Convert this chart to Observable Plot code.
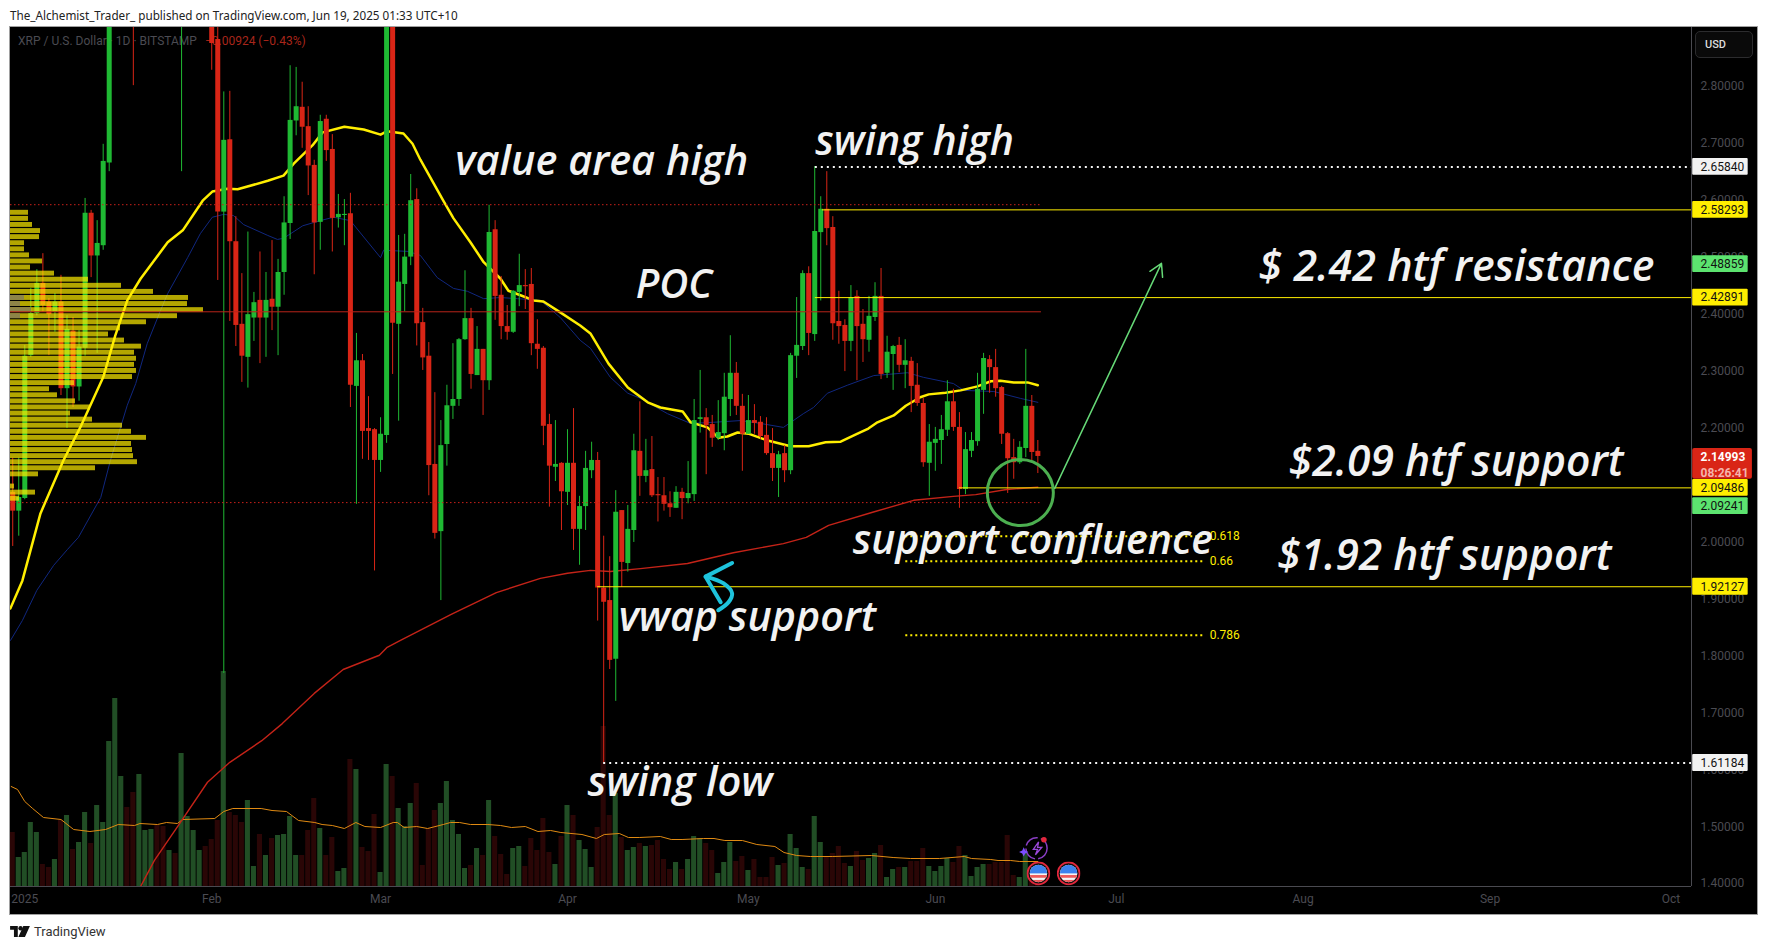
<!DOCTYPE html>
<html><head><meta charset="utf-8">
<script src="https://cdn.jsdelivr.net/npm/d3@7"></script>
<script src="https://cdn.jsdelivr.net/npm/@observablehq/plot@0.6"></script>
<style>
html,body{margin:0;padding:0;background:#fff;overflow:hidden}
#root{position:relative;width:1767px;height:949px;font-family:Roboto,sans-serif}
#head{position:absolute;left:10px;top:7px;font:11.7px "Noto Sans",Roboto,sans-serif;color:#222;white-space:nowrap}
#chart{position:absolute;left:10px;top:27px;width:1747px;height:887px;background:#000;outline:1px solid #a0a0a0}
#chart svg{position:absolute;left:0;top:0}
#legend{position:absolute;left:8px;top:7px;font:12px Roboto,sans-serif;color:#4b4b52;white-space:nowrap}
#legend b{font-weight:400;color:#a8261b;margin-left:8px}
#usd{position:absolute;left:1685px;top:4px;width:47px;height:25px;background:#0a0a0a;border:1px solid #2c2c2e;border-radius:5px;color:#ddd;font:500 11px/25px Roboto,sans-serif;padding-left:9px;box-sizing:content-box;z-index:9}
#foot{position:absolute;left:10px;top:924px;display:flex;align-items:center;gap:4px;font:13px Roboto,sans-serif;color:#333}
</style></head><body>
<div id="root">
<div id="head">The_Alchemist_Trader_ published on TradingView.com, Jun 19, 2025 01:33 UTC+10</div>
<div id="chart"><div id="legend">XRP / U.S. Dollar · 1D · BITSTAMP<b>−0.00924 (−0.43%)</b></div><div id="usd">USD</div></div>
<div id="foot"><svg width="20" height="11" viewBox="0 0 36 20"><path fill="#111" d="M0 0h14v20H7V7H0zM24 0h12l-9 20H15z"/><circle cx="19" cy="4" r="4" fill="#111"/></svg><span>TradingView</span></div>
</div>
<script>
// ---- candles, one value per day; the first entry is two days before 1 Jan 2025
const firstDay = -2;
const opens = [
2.087,2.054,2.076,2.327,2.401,2.454,2.421,2.403,2.421,2.269,
2.370,2.272,2.340,2.577,2.502,2.520,2.665,3.07,3.18,3.26,
3.12,3.03,3.14,3.18,3.20,3.12,3.09,3.13,3.02,3.10,
3.12,3.14,3.16,3.05,2.882,2.579,2.706,2.527,2.382,2.324,
2.393,2.424,2.393,2.426,2.412,2.473,2.559,2.739,2.763,2.729,
2.661,2.561,2.742,2.689,2.569,2.573,2.576,2.273,2.318,2.199,
2.197,2.143,2.187,2.97,2.382,2.452,2.500,2.601,2.385,2.326,
2.136,2.018,2.171,2.238,2.250,2.355,2.392,2.292,2.338,2.283,
2.548,2.433,2.378,2.368,2.438,2.450,2.452,2.347,2.340,2.206,
2.131,2.138,2.087,2.138,2.022,2.062,2.125,2.143,1.919,1.897,
1.794,2.055,1.962,2.020,2.159,2.115,2.127,2.083,2.081,2.067,
2.059,2.087,2.076,2.083,2.215,2.218,2.206,2.182,2.190,2.250,
2.296,2.238,2.189,2.213,2.210,2.187,2.155,2.129,2.155,2.125,
2.326,2.343,2.471,2.364,2.543,2.584,2.552,2.387,2.380,2.352,
2.431,2.382,2.354,2.394,2.431,2.296,2.329,2.345,2.310,2.317,
2.275,2.243,2.138,2.173,2.178,2.196,2.246,2.201,2.092,2.159,
2.176,2.266,2.320,2.306,2.271,2.190,2.148,2.139,2.164,2.238,2.159];
const highs = [
2.147,2.147,2.345,2.445,2.478,2.506,2.427,2.436,2.468,2.397,
2.394,2.371,2.603,2.582,2.564,2.698,3.16,3.22,3.40,3.29,
3.28,3.20,3.22,3.24,3.22,3.16,3.17,3.15,3.15,3.16,
3.18,3.20,3.18,3.07,2.98,2.790,2.791,2.571,2.471,2.544,
2.438,2.509,2.473,2.529,2.496,2.606,2.836,2.833,2.807,2.764,
2.670,2.749,2.749,2.715,2.610,2.601,2.612,2.366,2.329,2.255,
2.199,2.218,3.00,3.00,2.538,2.540,2.645,2.620,2.410,2.350,
2.262,2.213,2.275,2.348,2.357,2.476,2.410,2.378,2.338,2.591,
2.564,2.466,2.415,2.441,2.505,2.478,2.480,2.390,2.343,2.224,
2.213,2.139,2.197,2.234,2.080,2.159,2.175,2.157,2.010,1.974,
2.090,2.055,2.064,2.189,2.246,2.180,2.185,2.113,2.113,2.088,
2.097,2.094,2.141,2.250,2.301,2.234,2.222,2.248,2.296,2.362,
2.315,2.259,2.257,2.241,2.220,2.218,2.199,2.159,2.169,2.331,
2.429,2.476,2.483,2.659,2.606,2.650,2.571,2.440,2.390,2.450,
2.441,2.408,2.431,2.455,2.480,2.361,2.345,2.359,2.355,2.324,
2.313,2.252,2.206,2.201,2.222,2.283,2.268,2.227,2.192,2.192,
2.296,2.331,2.327,2.338,2.273,2.192,2.180,2.176,2.338,2.257,2.178];
const lows = [
1.992,2.010,2.074,2.324,2.397,2.403,2.327,2.368,2.257,2.199,
2.236,2.247,2.326,2.464,2.331,2.512,2.650,2.98,3.10,3.02,
2.801,2.95,3.02,3.05,3.02,3.02,3.02,2.95,2.650,3.00,
3.00,2.98,2.96,2.828,2.459,1.769,2.387,2.343,2.280,2.270,
2.352,2.313,2.324,2.371,2.327,2.433,2.531,2.713,2.691,2.608,
2.469,2.512,2.668,2.509,2.551,2.520,2.236,2.066,2.145,2.143,
1.949,2.122,2.173,2.294,2.212,2.404,2.485,2.344,2.301,2.081,
2.005,1.897,2.133,2.215,2.238,2.354,2.268,2.292,2.222,2.266,
2.389,2.355,2.354,2.366,2.413,2.408,2.327,2.303,2.169,2.061,
2.106,2.020,2.064,1.985,1.959,2.020,2.111,1.861,1.611,1.776,
1.720,1.920,1.947,1.999,2.080,2.104,2.078,2.035,2.054,2.043,
2.059,2.039,2.067,2.071,2.191,2.118,2.166,2.178,2.160,2.220,
2.222,2.124,2.189,2.189,2.180,2.152,2.106,2.078,2.104,2.118,
2.287,2.336,2.327,2.352,2.423,2.520,2.354,2.347,2.299,2.334,
2.283,2.315,2.333,2.387,2.285,2.287,2.266,2.297,2.269,2.227,
2.238,2.131,2.080,2.124,2.136,2.185,2.194,2.059,2.083,2.148,
2.168,2.224,2.261,2.254,2.171,2.085,2.110,2.136,2.148,2.141,2.120];
const closes = [
2.054,2.078,2.326,2.401,2.454,2.415,2.399,2.421,2.269,2.373,
2.272,2.342,2.577,2.502,2.524,2.668,3.07,3.18,3.26,3.12,
3.03,3.14,3.18,3.20,3.12,3.09,3.13,3.02,3.10,3.12,
3.14,3.16,3.05,2.875,2.579,2.705,2.527,2.380,2.326,2.399,
2.420,2.393,2.424,2.412,2.473,2.560,2.740,2.764,2.728,2.660,
2.560,2.738,2.687,2.568,2.575,2.575,2.275,2.318,2.194,2.194,
2.143,2.189,2.97,2.384,2.456,2.500,2.599,2.383,2.323,2.134,
2.015,2.169,2.239,2.250,2.355,2.392,2.294,2.338,2.283,2.543,
2.431,2.378,2.368,2.440,2.450,2.448,2.348,2.338,2.203,2.133,
2.136,2.088,2.138,2.022,2.062,2.129,2.143,1.919,1.894,1.792,
2.052,1.964,2.022,2.160,2.115,2.125,2.081,2.081,2.066,2.060,
2.087,2.076,2.085,2.213,2.218,2.204,2.182,2.192,2.254,2.296,
2.238,2.189,2.213,2.208,2.185,2.155,2.129,2.153,2.125,2.327,
2.345,2.471,2.366,2.545,2.584,2.550,2.383,2.378,2.352,2.429,
2.378,2.355,2.396,2.431,2.294,2.333,2.343,2.310,2.318,2.273,
2.243,2.139,2.175,2.180,2.197,2.246,2.201,2.092,2.162,2.178,
2.268,2.322,2.306,2.269,2.189,2.146,2.139,2.166,2.238,2.157,2.150];
const volumes = [
54,29,34,64,54,22,19,27,66,71,
37,44,74,43,81,64,145,188,110,79,
94,112,56,57,61,60,36,33,133,70,
56,36,40,47,66,215,74,71,64,86,
20,52,31,48,51,52,70,31,31,56,
88,58,31,49,15,18,127,117,39,35,
72,14,122,110,78,60,83,103,21,58,
76,83,105,66,52,18,21,38,31,86,
50,32,12,38,40,20,48,36,68,34,
22,50,81,71,46,37,19,59,160,71,
93,49,36,39,43,40,41,46,27,17,
24,17,27,50,48,43,36,13,24,44,
25,30,16,27,9,9,29,21,23,52,
38,19,17,70,44,30,33,40,23,20,
35,26,28,33,41,9,17,19,19,25,
25,38,20,15,20,28,24,40,31,10,
19,22,22,24,24,51,11,9,33,16,8];
// ---- moving averages: days since 1 Jan and value
const yellowDays = [-2.4,-0.4,2.6,6.4,9.2,13,15,17,19.2,23.7,26.2,29.5,31.1,33.6,35.3,40.3,42.9,44.6,47.7,49.4,53,56.2,59,60.1,62.8,64.3,65.6,69.4,71.1,73.9,76.1,78.9,80.2,82.2,84.4,86,88.8,92.1,93.8,96.8,100,103.3,105.4,109.1,110.4,113.2,115,116.5,118.2,120,123.2,127,130,132.8,135.3,138.1,139.9,141.4,144.1,146.1,148.5,149.9,152.7,155.2,158,160.2,161.8,164,166.3,168];
const yellowValues = [1.883,1.932,2.050,2.143,2.201,2.289,2.362,2.424,2.462,2.526,2.547,2.599,2.615,2.620,2.619,2.634,2.643,2.664,2.696,2.719,2.729,2.724,2.715,2.721,2.717,2.699,2.671,2.599,2.568,2.526,2.491,2.462,2.441,2.433,2.424,2.422,2.403,2.380,2.366,2.313,2.271,2.245,2.236,2.229,2.210,2.201,2.183,2.185,2.192,2.190,2.178,2.168,2.168,2.175,2.176,2.190,2.199,2.210,2.222,2.239,2.254,2.259,2.262,2.266,2.273,2.282,2.283,2.280,2.280,2.275];
const blueDays = [-2.37,-0.4,2,4.8,7.1,8.9,12.6,14.2,17,18.4,20.3,22.5,23.7,27,29.1,31.1,33,34.6,36.3,40.3,41.9,42.9,46.1,49,51.2,54,59,59.5,63.6,65.6,68.4,71.1,73.4,76.1,78.9,81.7,85.5,88.8,92.1,93.8,97.1,100,102.1,106.6,110.4,114.2,118.7,122,125.8,129.1,130.8,133.1,136.4,140.8,146.4,149,154,155.7,160.7,165.1,168];
const blueValues = [1.827,1.862,1.915,1.959,1.987,2.008,2.078,2.143,2.240,2.278,2.348,2.406,2.436,2.499,2.541,2.570,2.575,2.573,2.557,2.538,2.531,2.533,2.555,2.564,2.570,2.564,2.499,2.512,2.510,2.503,2.464,2.445,2.440,2.427,2.429,2.427,2.424,2.394,2.354,2.340,2.289,2.261,2.252,2.225,2.208,2.210,2.213,2.208,2.201,2.225,2.236,2.261,2.275,2.292,2.297,2.289,2.278,2.266,2.264,2.252,2.245];
const vwapDays = [19.2,21.5,25.7,30.3,34,39.3,42.7,48,52.8,58.8,60.1,62.3,70.8,78.2,85.5,90,93.8,97.1,102.1,109.9,117.5,125.8,129.6,133.3,140.6,147.4,154,157.7,162.8,168];
const vwapValues = [1.395,1.441,1.506,1.578,1.613,1.651,1.681,1.734,1.776,1.801,1.815,1.827,1.873,1.911,1.936,1.945,1.950,1.948,1.953,1.962,1.981,1.997,2.008,2.029,2.052,2.073,2.080,2.083,2.092,2.096];
const volMaDays = [-2.25,-1.2,0,1.3,3.1,6,8.1,10.8,13.4,15.5,18.2,19.1,22,23.5,25.3,26.2,31.5,33,34.5,39.2,41,43.4,45.4,48.1,49.3,51,53,54.9,56.4,59,61.1,61.8,62.9,65,66.8,69.4,70.6,72.1,73.9,76.8,78.9,80.7,83,85.1,87.2,88.9,92.4,94.8,96.1,98.6,100.1,101.9,105.4,107.2,109,112.6,114.3,116.1,119,121.4,124.4,125.9,128,130.3,133.9,140.4,144,146.9,151.7,155.8,157,160.2,161.4,163.5,165,168];
const volMaValues = [100,97,85,78,69,67,57,55,57,62,61,63,62,64,63,67,68,75,78,78,76,75,66,64,62,61,58,64,60,59,64,64,59,60,58,62,64,64,62,62,61,59,60,55,56,54,52,48,52,53,49,49,50,47,47,48,48,46,46,42,40,34,31,30,30,31,29,28,28,30,28,27,26,26,25,25];
// ---- visible-range volume profile, top row first
const profileTop = 2.5778, profileStep = 0.01068;
const profileVolumes = [18,18,22,30,29,14,14,19,32,20,44,78,111,143,178,177,193,167,136,110,98,114,131,124,126,124,126,122,64,39,47,65,80,60,82,112,121,136,121,122,123,127,85,28,0,4,25,9];
const profileDown = {14:14,15:10,16:21,17:10};
// ---- levels
const levelPrices = [2.592,2.069,2.404,2.6584,1.61184,2.58293,2.42891,2.09486,1.92127];
const levelStart  = [-2.37,-2.37,-2.37,131.1,96,132.3,131.1,155,95];
const levelEnd    = [168.6,168.6,168.6,276.4,276.4,276.4,276.4,276.4,276.4];
const levelKinds  = ["va","va","poc","swing","swing","htf","htf","htf","htf"];
const fibRatios = ["0.618","0.66","0.786"];
const fibPrices = [2.010,1.966,1.836];
const priceTicks = [1.4,1.5,1.6,1.7,1.8,1.9,2.0,2.1,2.2,2.3,2.4,2.5,2.6,2.7,2.8];
const monthTicks = [0,31,59,90,120,151,181,212,243,273];
const monthLabels = ["2025","Feb","Mar","Apr","May","Jun","Jul","Aug","Sep","Oct"];
const tagTexts = ["2.65840","2.58293","2.48859","2.42891","2.09486","2.09241","1.92127","1.61184"];
const tagPrices = [2.6584,2.58293,2.4877,2.42891,2.09486,2.0627,1.92127,1.61184];
const tagFills = ["#f2f2f2","#ffee00","#5ce36f","#ffee00","#ffee00","#5ce36f","#ffee00","#f2f2f2"];
const noteTexts = ["value area high","swing high","POC","$ 2.42 htf resistance","$2.09 htf support","support confluence","$1.92 htf support","vwap support","swing low"];
const noteDays = [71.4,131.1,101.3,204.6,209.6,137.3,207.7,98.5,93.3];
const notePrices = [2.668,2.703,2.450,2.483,2.139,2.002,1.974,1.867,1.578];
const noteSizes = [41.5,41,40,43,42.6,41,42.5,41.3,41.5];

const day = i => new Date(Date.UTC(2025,0,1) + i*864e5);
const pairs = (xs,ys) => xs.map((d,i)=>({x:day(d),y:ys[i]}));
const candles = opens.map((o,i)=>({x:day(firstDay+i),x1:day(firstDay+i-0.42),x2:day(firstDay+i+0.42),o,h:highs[i],l:lows[i],c:closes[i],v:volumes[i],up:closes[i]>=o}));

const W=1747,H=887;
const chart=document.getElementById("chart");
const base={width:W,height:H,marginTop:0,marginLeft:0,marginRight:66,marginBottom:28,
  style:{background:"transparent",position:"absolute",left:0,top:0,maxWidth:"none"},
  color:{type:"identity"}};
const xTime={type:"utc",domain:[day(-2.37),day(276.4)]};
const yPrice={domain:[1.395,2.9031]};

// layer 1: volume pane
chart.appendChild(Plot.plot({...base,x:{...xTime,axis:null},y:{domain:[0,859],axis:null},marks:[
  Plot.rect(candles,{x1:"x1",x2:"x2",y1:()=>0,y2:"v",fill:d=>d.up?"#214e25":"#2a0606"}),
  Plot.line(pairs(volMaDays,volMaValues),{x:"x",y:"y",stroke:"#e08a12",strokeWidth:1})
]}));
// layer 2: moving averages and candles
chart.appendChild(Plot.plot({...base,x:{...xTime,axis:null},y:{...yPrice,axis:null},marks:[
  Plot.line(pairs(blueDays,blueValues),{x:"x",y:"y",stroke:"#10277f",strokeWidth:1,clip:true}),
  Plot.line(pairs(vwapDays,vwapValues),{x:"x",y:"y",stroke:"#c42318",strokeWidth:1.4,clip:true}),
  Plot.line(pairs(yellowDays,yellowValues),{x:"x",y:"y",stroke:"#ffee00",strokeWidth:2.5,clip:true}),
  Plot.ruleX(candles,{x:"x",y1:"l",y2:"h",stroke:d=>d.up?"#1fb933":"#d92516",strokeWidth:1,clip:true}),
  Plot.ruleX(candles,{x:"x",y1:"o",y2:"c",stroke:d=>d.up?"#1fb933":"#d92516",strokeWidth:5,clip:true})
]}));
// layer 3: volume profile, translucent over the candles
const rows=profileVolumes.map((v,i)=>({v,p:profileTop-i*profileStep,down:profileDown[i]||0}));
chart.appendChild(Plot.plot({...base,x:{domain:[0,1681],axis:null},y:{...yPrice,axis:null},marks:[
  Plot.rect(rows,{x1:()=>0,x2:"v",y1:d=>d.p-0.0043,y2:d=>d.p+0.0043,fill:"#ffec00",fillOpacity:0.7}),
  Plot.rect(rows.filter(d=>d.down),{x1:()=>0,x2:"down",y1:d=>d.p-0.0043,y2:d=>d.p+0.0043,fill:"#8d8448"})
]}));
// layer 4: axes, levels, notes and tags
const levels=levelPrices.map((p,i)=>({p,a:day(levelStart[i]),b:day(levelEnd[i]),k:levelKinds[i]}));
const fibs=fibPrices.map((p,i)=>({p,t:fibRatios[i]}));
const tags=tagTexts.map((t,i)=>({t,p:tagPrices[i],f:tagFills[i]}));
const notes=noteTexts.map((t,i)=>({t,x:day(noteDays[i]),p:notePrices[i],s:noteSizes[i]}));
const svgUri=s=>"data:image/svg+xml,"+encodeURIComponent(s);
const flag=svgUri(`<svg xmlns='http://www.w3.org/2000/svg' viewBox='0 0 22 22'><defs><clipPath id='c'><circle cx='11' cy='11' r='8'/></clipPath></defs><circle cx='11' cy='11' r='10' fill='#111' stroke='#e3273c' stroke-width='1.6'/><g clip-path='url(#c)'><rect width='22' height='22' fill='#f4f4f4'/><rect y='3' width='22' height='8' fill='#3b82ee'/><rect y='12.5' width='22' height='2.5' fill='#ee5a5a'/><rect y='17' width='22' height='3' fill='#ee5a5a'/></g></svg>`);
const bolt=svgUri(`<svg xmlns='http://www.w3.org/2000/svg' viewBox='0 0 32 26'><circle cx='17' cy='13' r='10' fill='none' stroke='#8a3ec5' stroke-width='1.4' stroke-dasharray='14 3'/><path d='M19 7l-5 7h4l-2 5 6-7h-4z' fill='none' stroke='#9a48d8' stroke-width='1.2'/><circle cx='24' cy='5' r='2.6' fill='#e3273c'/><path d='M5 12l1.4 3 3 1.4-3 1.4-1.4 3-1.4-3-3-1.4 3-1.4z' fill='#7c4dff'/></svg>`);
const icons=[{x:day(168.1),p:1.418,src:flag,s:24},{x:day(173.1),p:1.418,src:flag,s:24},{x:day(167.6),p:1.462,src:bolt,s:34}];
chart.appendChild(Plot.plot({...base,x:{...xTime,axis:null},y:{...yPrice,axis:null},marks:[
  Plot.axisY({anchor:"right",ticks:priceTicks,tickSize:0,tickPadding:9,tickFormat:d3.format(".5f"),label:null,fill:"#4b4b52",fontSize:12,fontFamily:"Roboto"}),
  Plot.axisX({anchor:"bottom",ticks:monthTicks.map(day),tickSize:0,tickPadding:8,label:null,fill:"#4b4b52",fontSize:12,fontFamily:"Roboto",
    tickFormat:d=>monthLabels[monthTicks.findIndex(m=>+day(m)===+d)]}),
  Plot.ruleY([1.395],{stroke:"#4a4a50",strokeWidth:1}),
  Plot.ruleX([day(276.4)],{stroke:"#4a4a50",strokeWidth:1,y1:1.395,y2:2.9031}),
  Plot.ruleY(levels.filter(d=>d.k==="va"),{y:"p",x1:"a",x2:"b",stroke:"#c8201a",strokeWidth:1,strokeDasharray:"1.5,2.5"}),
  Plot.ruleY(levels.filter(d=>d.k==="poc"),{y:"p",x1:"a",x2:"b",stroke:"#b9241a",strokeWidth:1}),
  Plot.ruleY(levels.filter(d=>d.k==="swing"),{y:"p",x1:"a",x2:"b",stroke:"#f4f4f4",strokeWidth:2,strokeDasharray:"2,4"}),
  Plot.ruleY(levels.filter(d=>d.k==="htf"),{y:"p",x1:"a",x2:"b",stroke:"#ffee00",strokeWidth:1}),
  Plot.ruleY(fibs,{y:"p",x1:()=>day(146.1),x2:()=>day(195.7),stroke:"#ffee00",strokeWidth:2,strokeDasharray:"2,3"}),
  Plot.text(fibs,{y:"p",x:()=>day(196.5),text:"t",textAnchor:"start",fill:"#ffee00",fontSize:12,fontFamily:"Roboto"}),
  Plot.dot([{x:day(165.1),p:2.0867}],{x:"x",y:"p",r:33,stroke:"#4caf50",strokeWidth:3,fill:"none"}),
  Plot.arrow([{x1:day(170.8),y1:2.094,x2:day(188.5),y2:2.489}],{x1:"x1",y1:"y1",x2:"x2",y2:"y2",bend:0,stroke:"#66d977",strokeWidth:1.5,headLength:14}),
  Plot.line(pairs([117.3,112.9,115.4],[1.963,1.939,1.894]),{x:"x",y:"y",stroke:"#1ec3dc",strokeWidth:4,strokeLinecap:"round"}),
  Plot.line(pairs([112.9,115.9,117.3,116.7,115],[1.939,1.927,1.9095,1.894,1.880]),{x:"x",y:"y",stroke:"#1ec3dc",strokeWidth:4,curve:"catmull-rom",strokeLinecap:"round"}),
  Plot.text(notes,{x:"x",y:"p",text:"t",textAnchor:"start",fill:"#f2f2f2",fontSize:"s",fontStyle:"italic",fontWeight:600,fontFamily:"Open Sans"}),
  Plot.image(icons,{x:"x",y:"p",src:d=>d.src,width:"s",height:"s"}),
  Plot.rect(tags,{x1:()=>day(276.6),x2:()=>day(285.8),y1:d=>d.p-0.0148,y2:d=>d.p+0.0148,fill:"f",rx:1}),
  Plot.text(tags,{x:()=>day(277.9),y:"p",text:"t",textAnchor:"start",fill:"#111",fontSize:12,fontFamily:"Roboto"}),
  Plot.rect([{y1:2.110,y2:2.164}],{x1:()=>day(276.6),x2:()=>day(286.5),y1:"y1",y2:"y2",fill:"#d92516",rx:2}),
  Plot.text([{t:"2.14993",p:2.1493}],{x:()=>day(277.9),y:"p",text:"t",textAnchor:"start",fill:"#fff",fontWeight:700,fontSize:12,fontFamily:"Roboto"}),
  Plot.text([{t:"08:26:41",p:2.1214}],{x:()=>day(277.9),y:"p",text:"t",textAnchor:"start",fill:"#f4b4ad",fontWeight:700,fontSize:12,fontFamily:"Roboto"})
]}));
</script>
</body></html>
